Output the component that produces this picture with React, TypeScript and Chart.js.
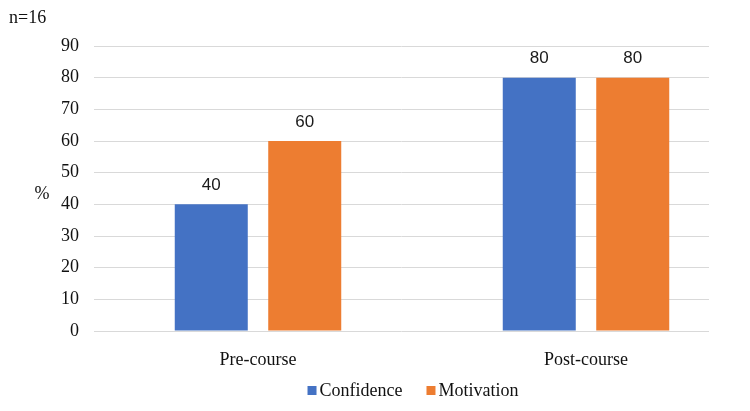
import React, { useEffect, useRef } from "react";
import { Chart, registerables } from "chart.js";

Chart.register(...registerables);

const categories = ["Pre-course", "Post-course"];
const seriesNames = ["Confidence", "Motivation"];
const confidence = [40, 80];
const motivation = [60, 80];
const yTicks = [0, 10, 20, 30, 40, 50, 60, 70, 80, 90];
const sampleNote = "n=16";
const yUnit = "%";

const SERIF = "'Liberation Serif', 'Times New Roman', serif";
const SANS = "'Liberation Sans', Arial, sans-serif";
const COLORS = ["#4472C4", "#ED7D31"];

const extrasPlugin = {
  id: "extras",
  afterDatasetsDraw(chart: any) {
    const ctx = chart.ctx;
    const area = chart.chartArea;
    ctx.save();
    // value labels
    ctx.font = `17px ${SANS}`;
    ctx.fillStyle = "#1a1a1a";
    ctx.textAlign = "center";
    ctx.textBaseline = "middle";
    chart.data.datasets.forEach((ds: any, di: number) => {
      const meta = chart.getDatasetMeta(di);
      meta.data.forEach((el: any, i: number) => {
        const v = ds.data[i].y;
        ctx.fillText(String(v), el.x, el.y - 19);
      });
    });
    // n note
    ctx.font = `18px ${SERIF}`;
    ctx.fillStyle = "#111";
    ctx.textAlign = "left";
    ctx.fillText(sampleNote, 9, 18);
    // unit
    ctx.textAlign = "center";
    ctx.fillText(yUnit, 42, (area.top + area.bottom) / 2 + 6);
    // legend
    const items = chart.data.datasets.map((ds: any) => ({ label: ds.label, color: ds.backgroundColor }));
    const box = 9;
    const gapBoxText = 3;
    const gapItems = 24;
    ctx.font = `18px ${SERIF}`;
    const widths = items.map((it: any) => box + gapBoxText + ctx.measureText(it.label).width);
    const total = widths.reduce((a: number, b: number) => a + b, 0) + gapItems * (items.length - 1);
    let x = 413 - total / 2;
    const y = 391;
    items.forEach((it: any, i: number) => {
      ctx.fillStyle = it.color;
      ctx.fillRect(x, y - box / 2 - 0.5, box, box);
      ctx.fillStyle = "#111";
      ctx.textAlign = "left";
      ctx.fillText(it.label, x + box + gapBoxText, y);
      x += widths[i] + gapItems;
    });
    ctx.restore();
  },
};

export default function App() {
  const ref = useRef<HTMLCanvasElement | null>(null);
  useEffect(() => {
    if (!ref.current) return;
    const chart = new Chart(ref.current, {
      type: "bar",
      data: {
        datasets: [
          {
            label: seriesNames[0],
            data: confidence.map((v, i) => ({ x: i, y: v })),
            backgroundColor: COLORS[0],
          },
          {
            label: seriesNames[1],
            data: motivation.map((v, i) => ({ x: i, y: v })),
            backgroundColor: COLORS[1],
          },
        ],
      } as any,
      options: {
        animation: false,
        responsive: false,
        maintainAspectRatio: false,
        layout: { padding: { left: 0, top: 46, right: 41, bottom: 0 } },
        categoryPercentage: 0.57,
        barPercentage: 0.781,
        plugins: {
          legend: { display: false },
          title: { display: false },
          tooltip: { enabled: false },
        },
        scales: {
          x: {
            type: "linear",
            min: -0.5,
            max: 1.375,
            offset: false,
            grid: { display: false, offset: false },
            border: { display: false },
            afterBuildTicks: (axis: any) => {
              axis.ticks = categories.map((_, i) => ({ value: i }));
            },
            afterFit: (axis: any) => {
              axis.height = 80;
            },
            ticks: {
              autoSkip: false,
              maxRotation: 0,
              padding: 10,
              color: "#111",
              font: { family: SERIF, size: 18 },
              callback: (_v: any, i: number) => categories[i],
            },
          },
          y: {
            min: 0,
            max: 90,
            afterBuildTicks: (axis: any) => {
              axis.ticks = yTicks.map((v) => ({ value: v }));
            },
            afterFit: (axis: any) => {
              axis.width = 94;
            },
            grid: { color: "#d9d9d9", lineWidth: 1, drawTicks: false },
            border: { display: false },
            ticks: {
              padding: 15,
              color: "#111",
              font: { family: SERIF, size: 18 },
            },
          },
        },
      } as any,
      plugins: [extrasPlugin],
    });
    return () => chart.destroy();
  }, []);
  return (
    <div style={{ position: "absolute", left: 0, top: 0, width: 750, height: 411, background: "#fff" }}>
      <canvas ref={ref} width={750} height={411} style={{ width: 750, height: 411 }} />
    </div>
  );
}
